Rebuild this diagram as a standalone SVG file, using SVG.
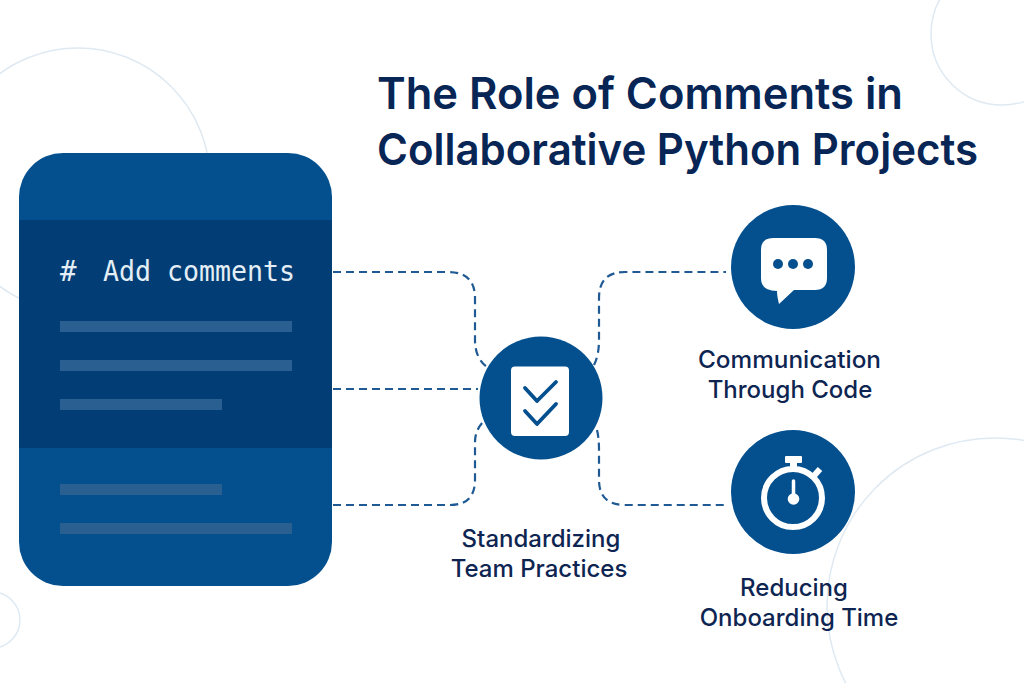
<svg xmlns="http://www.w3.org/2000/svg" width="1024" height="683" viewBox="0 0 1024 683">
<style>
.bg{fill:none;stroke:#dfe9f2;stroke-width:1.5}
.c{fill:none;stroke:#1f5a94;stroke-width:2.2;stroke-dasharray:8 5}
.t{font-family:Inter,"Liberation Sans",sans-serif;fill:#0e2552;font-size:24px;font-weight:500;text-anchor:middle}
.h{font-family:Inter,"Liberation Sans",sans-serif;fill:#072555;font-size:44px;font-weight:600}
.b{fill:#2a5f92}
.n{fill:#04508f}
</style>
<rect width="1024" height="683" fill="#fff"/>
<g id="background">
<circle class="bg" cx="78" cy="180" r="132"/>
<circle class="bg" cx="1002" cy="34" r="71"/>
<circle class="bg" cx="995" cy="606" r="168"/>
<circle class="bg" cx="-8" cy="620" r="28"/>
</g>
<g id="title">
<text class="h" x="377" y="109" textLength="526" lengthAdjust="spacingAndGlyphs">The Role of Comments in</text>
<text class="h" x="377" y="165" textLength="601" lengthAdjust="spacingAndGlyphs">Collaborative Python Projects</text>
</g>
<g id="connectors">
<path class="c" d="M333 272H448Q475 272 475 298V340Q475 358 487 367"/>
<path class="c" d="M333 389H478"/>
<path class="c" d="M333 505H450Q475 505 475 480V442Q475 430 484 421"/>
<path class="c" d="M594 365Q599 355 599 340V298Q599 272 625 272H726"/>
<path class="c" d="M597 430Q599 438 599 450V480Q599 505 625 505H726"/>
</g>
<g id="code-panel">
<rect class="n" x="19" y="153" width="313" height="433" rx="44"/>
<rect x="19" y="220" width="313" height="228" fill="#023e75"/>
<text x="60" y="281" font-family="'DejaVu Sans Mono',monospace" font-size="27.500" fill="#e4eef6">#</text>
<text x="103" y="281" font-family="'DejaVu Sans Mono',monospace" font-size="27.500" fill="#e4eef6" textLength="192" lengthAdjust="spacingAndGlyphs">Add comments</text>
<rect class="b" x="60" y="321" width="232" height="11"/>
<rect class="b" x="60" y="360" width="232" height="11"/>
<rect class="b" x="60" y="399" width="162" height="11"/>
<rect class="b" x="60" y="484" width="162" height="11"/>
<rect class="b" x="60" y="523" width="232" height="11"/>
</g>
<g id="standardizing">
<circle class="n" cx="541" cy="398" r="61.500"/>
<rect x="511" y="366.500" width="58" height="69.500" rx="4" fill="#fff"/>
<path d="M525 388L537 401L556 382M525 411L537 424L556 404" fill="none" stroke="#04508f" stroke-width="3.800" stroke-linecap="round" stroke-linejoin="round"/>
<text class="t" x="541" y="547">Standardizing</text>
<text class="t" x="539" y="577">Team Practices</text>
</g>
<g id="communication">
<circle class="n" cx="793" cy="267" r="62"/>
<path d="M773 238H815Q827 238 827 250V278Q827 290 815 290H794L779 304Q777 296 777 291Q761 291 761 278V250Q761 238 773 238Z" fill="#fff"/>
<circle class="n" cx="778" cy="264" r="5"/>
<circle class="n" cx="793" cy="264" r="5"/>
<circle class="n" cx="808" cy="264" r="5"/>
<text class="t" x="789.500" y="368" textLength="183" lengthAdjust="spacingAndGlyphs">Communication</text>
<text class="t" x="790" y="398">Through Code</text>
</g>
<g id="reducing">
<circle class="n" cx="793" cy="492" r="62"/>
<circle cx="793" cy="498" r="29" fill="none" stroke="#fff" stroke-width="6"/>
<rect x="785" y="456" width="17" height="7" rx="1" fill="#fff"/>
<rect x="790" y="461" width="7" height="9" fill="#fff"/>
<path d="M812 478L820 469" stroke="#fff" stroke-width="6"/>
<path d="M793.500 481V497" stroke="#fff" stroke-width="3.500" stroke-linecap="round"/>
<circle cx="793.500" cy="499" r="5.800" fill="#fff"/>
<text class="t" x="794" y="596">Reducing</text>
<text class="t" x="799" y="626">Onboarding Time</text>
</g>
</svg>
